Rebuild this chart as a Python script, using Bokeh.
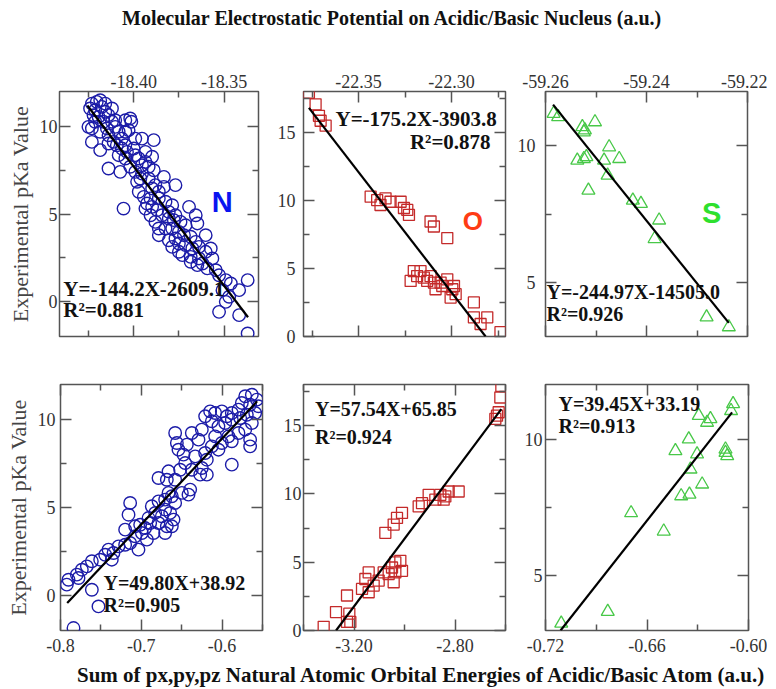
from bokeh.plotting import figure
from bokeh.layouts import column, row
from bokeh.models import Div, LinearAxis, FixedTicker, Range1d, Label, PrintfTickFormatter
from bokeh.embed import file_html
from bokeh.resources import INLINE

# ---------------- data ----------------
# N : MESP on nucleus (top) and sum of p NAO energies (bottom)
n_mesp = [
    -18.4231, -18.4204, -18.4185, -18.4241, -18.4213, -18.4176, -18.4157, -18.4139, -18.4194, -18.4222,
    -18.4120, -18.4102, -18.4083, -18.4167, -18.4148, -18.4231, -18.4250, -18.4185, -18.4231, -18.4185,
    -18.4139, -18.4074, -18.4083, -18.4046, -18.4019, -18.4013, -18.4028, -18.3991, -18.3954, -18.3889,
    -18.3935, -18.3898, -18.3954, -18.3917, -18.3889, -18.4019, -18.3991, -18.3963, -18.3917, -18.3833,
    -18.3769, -18.3972, -18.3944, -18.3907, -18.3861, -18.3833, -18.3880, -18.4056, -18.3926, -18.3898,
    -18.3870, -18.3843, -18.3806, -18.3778, -18.3935, -18.3907, -18.3880, -18.3861, -18.3824, -18.3787,
    -18.3750, -18.3694, -18.3657, -18.3648, -18.3713, -18.3769, -18.3806, -18.3861, -18.3750, -18.3713,
    -18.3676, -18.3639, -18.3602, -18.3731, -18.3685, -18.3639, -18.3602, -18.3565, -18.3620, -18.3593,
    -18.3546, -18.3528, -18.3491, -18.3463, -18.3509, -18.3472, -18.3417, -18.3370, -18.3491, -18.3528,
    -18.3417, -18.3370, -18.4213, -18.4139, -18.4111, -18.4093, -18.4065, -18.4037, -18.4065, -18.4046,
    -18.4139, -18.4102, -18.4120, -18.4157, -18.4046, -18.4046, -18.3991, -18.3972, -18.4000, -18.3935,
    -18.3954, -18.3981, -18.3898, -18.3861, -18.3824, -18.3787, -18.3806, -18.3769, -18.3741, -18.3722,
    -18.3685, -18.3657, -18.3787, -18.3750, -18.3685, -18.3648, -18.3574]
n_pka_top = [
    11.31, 11.41, 11.50, 11.03, 10.93, 11.12, 10.84, 10.65, 10.55, 10.65,
    10.27, 9.98, 9.70, 10.27, 9.89, 9.89, 9.98, 9.70, 9.12, 8.65,
    7.60, 7.41, 8.36, 8.17, 10.46, 10.27, 9.79, 9.31, 9.31, 9.22,
    8.55, 8.27, 7.79, 7.70, 7.50, 7.70, 7.41, 7.03, 7.03, 7.12,
    6.65, 6.27, 5.98, 5.89, 6.27, 6.55, 6.65, 5.31, 5.60, 5.41,
    5.22, 4.93, 5.12, 4.65, 5.31, 4.93, 4.55, 4.17, 4.17, 4.17,
    3.98, 5.41, 4.93, 4.46, 4.36, 3.60, 3.50, 3.79, 3.31, 3.22,
    3.03, 3.12, 3.79, 2.65, 2.55, 2.46, 2.84, 2.46, 2.17, 1.89,
    1.79, 1.50, 1.22, 1.03, 0.65, 0.27, 0.65, 1.22, -0.02, -0.59,
    -0.78, -1.83, 10.27, 9.50, 9.12, 8.93, 8.74, 8.55, 9.31, 8.93,
    9.03, 10.36, 11.03, 11.31, 10.36, 9.70, 8.36, 8.17, 8.74, 7.98,
    7.31, 6.84, 6.46, 5.89, 5.70, 5.50, 4.74, 4.93, 4.55, 3.79,
    3.70, 3.41, 3.12, 2.84, 2.27, 2.08, 3.03]
n_nao = [
    -0.5714, -0.5632, -0.5570, -0.5550, -0.5653, -0.5756, -0.5797, -0.5880, -0.5941, -0.6003,
    -0.6086, -0.6148, -0.6210, -0.6127, -0.6045, -0.5962, -0.5880, -0.5776, -0.5694, -0.5591,
    -0.5632, -0.5653, -0.5653, -0.5714, -0.5797, -0.5921, -0.5880, -0.6003, -0.6045, -0.6127,
    -0.6210, -0.6189, -0.6086, -0.6251, -0.6292, -0.6375, -0.6581, -0.6560, -0.6540, -0.6478,
    -0.6457, -0.6436, -0.6333, -0.6251, -0.6189, -0.6271, -0.5880, -0.6375, -0.6519, -0.6663,
    -0.6684, -0.6581, -0.6787, -0.6395, -0.6416, -0.6498, -0.6622, -0.6663, -0.6581, -0.6705,
    -0.6787, -0.6870, -0.6705, -0.6643, -0.6601, -0.6746, -0.6828, -0.6890, -0.6787, -0.6684,
    -0.6622, -0.6705, -0.6952, -0.7014, -0.6993, -0.7076, -0.7138, -0.7158, -0.6931, -0.7035,
    -0.7138, -0.7200, -0.7282, -0.7344, -0.7406, -0.7447, -0.7365, -0.7509, -0.7612, -0.7674,
    -0.7736, -0.7798, -0.7777, -0.7901, -0.7922, -0.7612, -0.7530, -0.7839, -0.7200, -0.7076,
    -0.6849, -0.6911]
n_pka_bot = [
    11.33, 11.42, 11.14, 10.76, 10.85, 10.95, 10.57, 10.38, 10.19, 10.47,
    10.38, 10.47, 10.19, 9.91, 9.62, 9.81, 10.00, 10.09, 10.28, 10.38,
    9.81, 8.86, 8.48, 9.43, 9.24, 9.05, 8.77, 8.67, 8.29, 8.48,
    8.10, 7.72, 9.05, 9.43, 8.86, 9.24, 9.24, 8.67, 8.29, 8.01,
    7.53, 8.58, 7.91, 7.25, 6.87, 6.87, 7.44, 7.15, 7.15, 7.06,
    6.58, 6.58, 6.68, 6.02, 5.73, 5.83, 5.64, 5.83, 5.26, 5.45,
    5.35, 5.07, 4.88, 4.69, 4.31, 4.50, 4.69, 4.12, 4.12, 3.93,
    3.93, 3.55, 3.83, 4.02, 3.55, 3.36, 5.26, 4.59, 3.17, 2.60,
    2.98, 2.88, 2.79, 2.41, 2.60, 2.31, 2.03, 2.03, 1.94, 1.65,
    1.46, 1.18, 0.99, 0.89, 0.61, 0.32, -0.63, -1.86, 3.74, 3.93,
    3.55, 4.40]

# O
o_mesp = [
    -22.3767, -22.3731, -22.3713, -22.3677, -22.3704, -22.3435, -22.3400, -22.3382, -22.3355, -22.3328,
    -22.3274, -22.3238, -22.3229, -22.3113, -22.3095, -22.3023, -22.3203, -22.3185, -22.3167, -22.3149,
    -22.3131, -22.3113, -22.3095, -22.3086, -22.3059, -22.3050, -22.3023, -22.2996, -22.3005, -22.2978,
    -22.2987, -22.2880, -22.2880, -22.2844, -22.2808, -22.2737, -22.3220, -22.3256]
o_pka_top = [
    17.91, 17.06, 16.21, 15.49, 15.85, 10.27, 10.02, 9.66, 10.15, 9.90,
    9.90, 9.30, 8.93, 8.45, 8.08, 7.23, 4.81, 4.44, 4.81, 4.32,
    4.08, 4.44, 3.96, 3.47, 3.96, 3.71, 4.20, 3.47, 2.86, 3.11,
    3.71, 2.50, 1.41, 0.92, 1.41, 0.32, 4.08, 9.44]
o_nao = [
    -3.3201, -3.2713, -3.2277, -3.2185, -3.2277, -3.1683, -3.1419, -3.1551, -3.1419, -3.1221,
    -3.1023, -3.0825, -3.0627, -3.0495, -3.0363, -3.0363, -3.0429, -3.0165, -3.0099, -3.0759,
    -3.0429, -3.0297, -3.0099, -2.9439, -2.9307, -2.9043, -2.8779, -2.8581, -2.8383, -2.8251,
    -2.7855, -2.8449, -2.6403, -2.6271, -2.6205, -2.6165, -2.6337, -3.2145]
o_pka_bot = [
    0.27, 1.35, 2.56, 1.23, 0.63, 3.04, 4.25, 3.77, 2.80, 3.29,
    3.65, 4.25, 4.13, 4.61, 4.25, 4.98, 3.53, 5.10, 4.37, 7.15,
    7.75, 8.24, 8.60, 9.08, 9.32, 9.93, 9.57, 9.93, 9.81, 10.17,
    10.17, 9.57, 15.48, 15.97, 17.05, 17.90, 15.72, 0.63]

# S
s_mesp = [-59.2584, -59.2575, -59.2527, -59.2522, -59.2502, -59.2524, -59.2537, -59.2519, -59.2484, -59.2474,
          -59.2454, -59.2477, -59.2515, -59.2427, -59.2411, -59.2375, -59.2384, -59.2281, -59.2237, -59.2524]
s_pka_top = [11.19, 11.07, 10.70, 10.58, 10.88, 10.51, 9.47, 9.60, 9.47, 9.96,
             9.53, 8.92, 8.37, 8.00, 7.88, 7.27, 6.59, 3.71, 3.35, 9.53]
s_nao = [-0.7107, -0.6832, -0.6694, -0.6501, -0.6432, -0.6398, -0.6349, -0.6353, -0.6304, -0.6343,
         -0.6274, -0.6294, -0.6245, -0.6225, -0.6136, -0.6126, -0.6136, -0.6091, -0.6103]
s_pka_bot = [3.26, 3.69, 7.30, 6.63, 9.57, 7.92, 7.98, 10.00, 9.45, 8.90,
             8.35, 10.86, 10.61, 10.74, 9.63, 9.39, 9.51, 11.29, 11.04]

# regression lines (end points)
fit_n_top_x, fit_n_top_y = [-18.4256, -18.3368], [11.2, -0.9]
fit_o_top_x, fit_o_top_y = [-22.3767, -22.2817], [16.8, 0.0]
fit_s_top_x, fit_s_top_y = [-59.2585, -59.2237], [11.52, 3.5]
fit_n_bot_x, fit_n_bot_y = [-0.7917, -0.5566], [-0.43, 11.04]
fit_o_bot_x, fit_o_bot_y = [-3.271, -2.6166], [0.0, 16.2]
fit_s_bot_x, fit_s_bot_y = [-0.7111, -0.6097], [3.0, 10.98]

# tick values
tl_xmaj, tl_xmin = [-18.40, -18.35], [-18.425, -18.375]
tm_xmaj, tm_xmin = [-22.35, -22.30], [-22.375, -22.325, -22.275]
tr_xmaj, tr_xmin = [-59.26, -59.24, -59.22], [-59.25, -59.23]
bl_xmaj, bl_xmin = [-0.8, -0.7, -0.6], [-0.75, -0.65, -0.55]
bm_xmaj, bm_xmin = [-3.2, -2.8], [-3.4, -3.0, -2.6]
br_xmaj, br_xmin = [-0.72, -0.66, -0.60], [-0.69, -0.63]
n_ymaj, n_ymin = [0, 5, 10], [2.5, 7.5]
o_ymaj, o_ymin = [0, 5, 10, 15], [2.5, 7.5, 12.5, 17.5]
s_ymaj, s_ymin = [5, 10], [7.5]

TITLE = "Molecular Electrostatic Potential on Acidic/Basic Nucleus (a.u.)"
XLABEL = "Sum of px,py,pz Natural Atomic Orbital Energies of Acidic/Basic Atom (a.u.)"
YLABEL = "Experimental pKa Value"

# ---------------- styling ----------------
FRAME = "#555555"
TXT = "#333333"
SERIF = "Liberation Serif"
N_COL, O_COL, S_COL = "#1c1ca8", "#c42a2a", "#48c848"


def style_axis(ax, ticker, fmt, show, standoff):
    ax.ticker = ticker
    if fmt is not None:
        ax.formatter = PrintfTickFormatter(format=fmt)
    ax.axis_line_color = None
    ax.major_tick_in = 11
    ax.major_tick_out = 0
    ax.minor_tick_in = 6
    ax.minor_tick_out = 0
    ax.major_tick_line_color = FRAME
    ax.minor_tick_line_color = FRAME
    ax.major_tick_line_width = 1.5
    ax.minor_tick_line_width = 1.5
    ax.major_label_text_font = SERIF
    if show:
        ax.major_label_text_color = TXT
        ax.major_label_text_font_size = "18px"
        ax.major_label_standoff = standoff
    else:
        # tick marks only: labels switched off
        ax.major_label_text_color = None
        ax.major_label_text_alpha = 0
        ax.major_label_text_font_size = "1px"
        ax.major_label_standoff = 0


def panel(xr, yr, xmaj, xmin, ymaj, ymin, xfmt, top_row, borders, fw, fh, xstand, ystand, ylabel=False):
    L, R, T, B = borders
    p = figure(frame_width=fw, frame_height=fh,
               x_range=Range1d(*xr), y_range=Range1d(*yr),
               toolbar_location=None, output_backend="svg",
               min_border_left=L, min_border_right=R, min_border_top=T, min_border_bottom=B,
               background_fill_color="white", border_fill_color="white",
               outline_line_color=FRAME, outline_line_width=1.5, margin=0)
    p.xgrid.visible = False
    p.ygrid.visible = False
    xt = FixedTicker(ticks=xmaj, minor_ticks=xmin)
    yt = FixedTicker(ticks=ymaj, minor_ticks=ymin)
    bottom = p.below[0]
    left = p.left[0]
    top = LinearAxis()
    right = LinearAxis()
    p.add_layout(top, "above")
    p.add_layout(right, "right")
    style_axis(bottom, xt, xfmt, not top_row, xstand)
    style_axis(top, xt, xfmt, top_row, xstand)
    style_axis(left, yt, None, True, ystand)
    style_axis(right, yt, None, False, 0)
    if ylabel:
        left.axis_label = YLABEL
        left.axis_label_text_font = SERIF
        left.axis_label_text_font_style = "normal"
        left.axis_label_text_font_size = "22px"
        left.axis_label_text_color = "#444444"
        left.axis_label_standoff = 4
    return p


def eq(p, x, y, text, size="20px", align="left"):
    p.add_layout(Label(x=x, y=y, text=text, text_font=SERIF, text_font_style="bold",
                       text_font_size=size, text_color="#111111", text_align=align,
                       text_baseline="alphabetic"))


def tag(p, x, y, text, color, size):
    p.add_layout(Label(x=x, y=y, text=text, text_font="Liberation Sans", text_font_style="bold",
                       text_font_size=size, text_color=color, text_align="center",
                       text_baseline="middle"))


# ---------------- top row ----------------
tl = panel((-18.441, -18.331), (-2, 12), tl_xmaj, tl_xmin, n_ymaj, n_ymin, "%.2f", True,
           (59, 4, 41, 24), 199, 245, 4, 2, ylabel=True)
tl.scatter(n_mesp, n_pka_top, marker="circle", size=12.5, fill_color=None, line_color=N_COL, line_width=1.4)
tl.line(fit_n_top_x, fit_n_top_y, line_color="black", line_width=2.2)
eq(tl, -18.4389, 0.74, "Y=-144.2X-2609.1", "21px")
eq(tl, -18.4389, -0.51, "R²=0.881", "21px")
tag(tl, -18.351, 5.66, "N", "#0a14f0", "29px")

tm = panel((-22.3796, -22.271), (0, 18), tm_xmaj, tm_xmin, o_ymaj, o_ymin, "%.2f", True,
           (41, 4, 41, 24), 202, 245, 4, 8)
tm.scatter(o_mesp, o_pka_top, marker="square", size=11, fill_color=None, line_color=O_COL, line_width=1.3)
tm.line(fit_o_top_x, fit_o_top_y, line_color="black", line_width=2.2)
eq(tm, -22.3624, 15.95, "Y=-175.2X-3903.8", "21px")
eq(tm, -22.279, 14.28, "R²=0.878", "21px", align="right")
tag(tm, -22.2885, 8.52, "O", "#ff3c14", "26px")

tr = panel((-59.26, -59.22), (3, 12), tr_xmaj, tr_xmin, s_ymaj, s_ymin, "%.2f", True,
           (36, 20, 41, 24), 202, 245, 4, 10)
tr.scatter(s_mesp, s_pka_top, marker="triangle", size=13, fill_color=None, line_color=S_COL, line_width=1.3)
tr.line(fit_s_top_x, fit_s_top_y, line_color="black", line_width=2.2)
eq(tr, -59.2598, 4.63, "Y=-244.97X-14505.0")
eq(tr, -59.2598, 3.83, "R²=0.926")
tag(tr, -59.2271, 7.54, "S", "#2ee02e", "29px")

# ---------------- bottom row ----------------
bl = panel((-0.80, -0.55), (-2, 12), bl_xmaj, bl_xmin, n_ymaj, n_ymin, "%.1f", False,
           (60, 4, 24, 33), 202, 246, 8, 5, ylabel=True)
bl.scatter(n_nao, n_pka_bot, marker="circle", size=12.5, fill_color=None, line_color=N_COL, line_width=1.4)
bl.line(fit_n_bot_x, fit_n_bot_y, line_color="black", line_width=2.2)
eq(bl, -0.7468, 0.72, "Y=49.80X+38.92")
eq(bl, -0.7468, -0.53, "R²=0.905")

bm = panel((-3.40, -2.60), (0, 18), bm_xmaj, bm_xmin, o_ymaj, o_ymin, "%.2f", False,
           (37, 4, 24, 33), 202, 246, 8, 2)
bm.scatter(o_nao, o_pka_bot, marker="square", size=11, fill_color=None, line_color=O_COL, line_width=1.3)
bm.line(fit_o_bot_x, fit_o_bot_y, line_color="black", line_width=2.2)
eq(bm, -3.3545, 16.23, "Y=57.54X+65.85")
eq(bm, -3.3545, 14.13, "R²=0.924")

br = panel((-0.72, -0.60), (3, 12), br_xmaj, br_xmin, s_ymaj, s_ymin, "%.2f", False,
           (36, 19, 24, 33), 203, 246, 8, 3)
br.scatter(s_nao, s_pka_bot, marker="triangle", size=13, fill_color=None, line_color=S_COL, line_width=1.3)
br.line(fit_s_bot_x, fit_s_bot_y, line_color="black", line_width=2.2)
eq(br, -0.7123, 11.29, "Y=39.45X+33.19")
eq(br, -0.7123, 10.49, "R²=0.913")

title = Div(text=f'<div style="font-family:\'Liberation Serif\';font-weight:bold;font-size:20px;'
                 f'line-height:22px;padding-top:7px;white-space:nowrap;padding-left:122px;color:#111">{TITLE}</div>',
            width=767, height=50, margin=0)
xlab = Div(text=f'<div style="font-family:\'Liberation Serif\';font-weight:bold;font-size:21px;'
                f'line-height:24px;white-space:nowrap;padding-left:77px;color:#111">{XLABEL}</div>',
           width=767, height=24, margin=0)

layout = column(title,
                row(tl, tm, tr, spacing=0, margin=0),
                row(bl, bm, br, spacing=0, margin=0),
                xlab, spacing=0, margin=0)

open("out.html", "w").write(file_html(layout, INLINE))
